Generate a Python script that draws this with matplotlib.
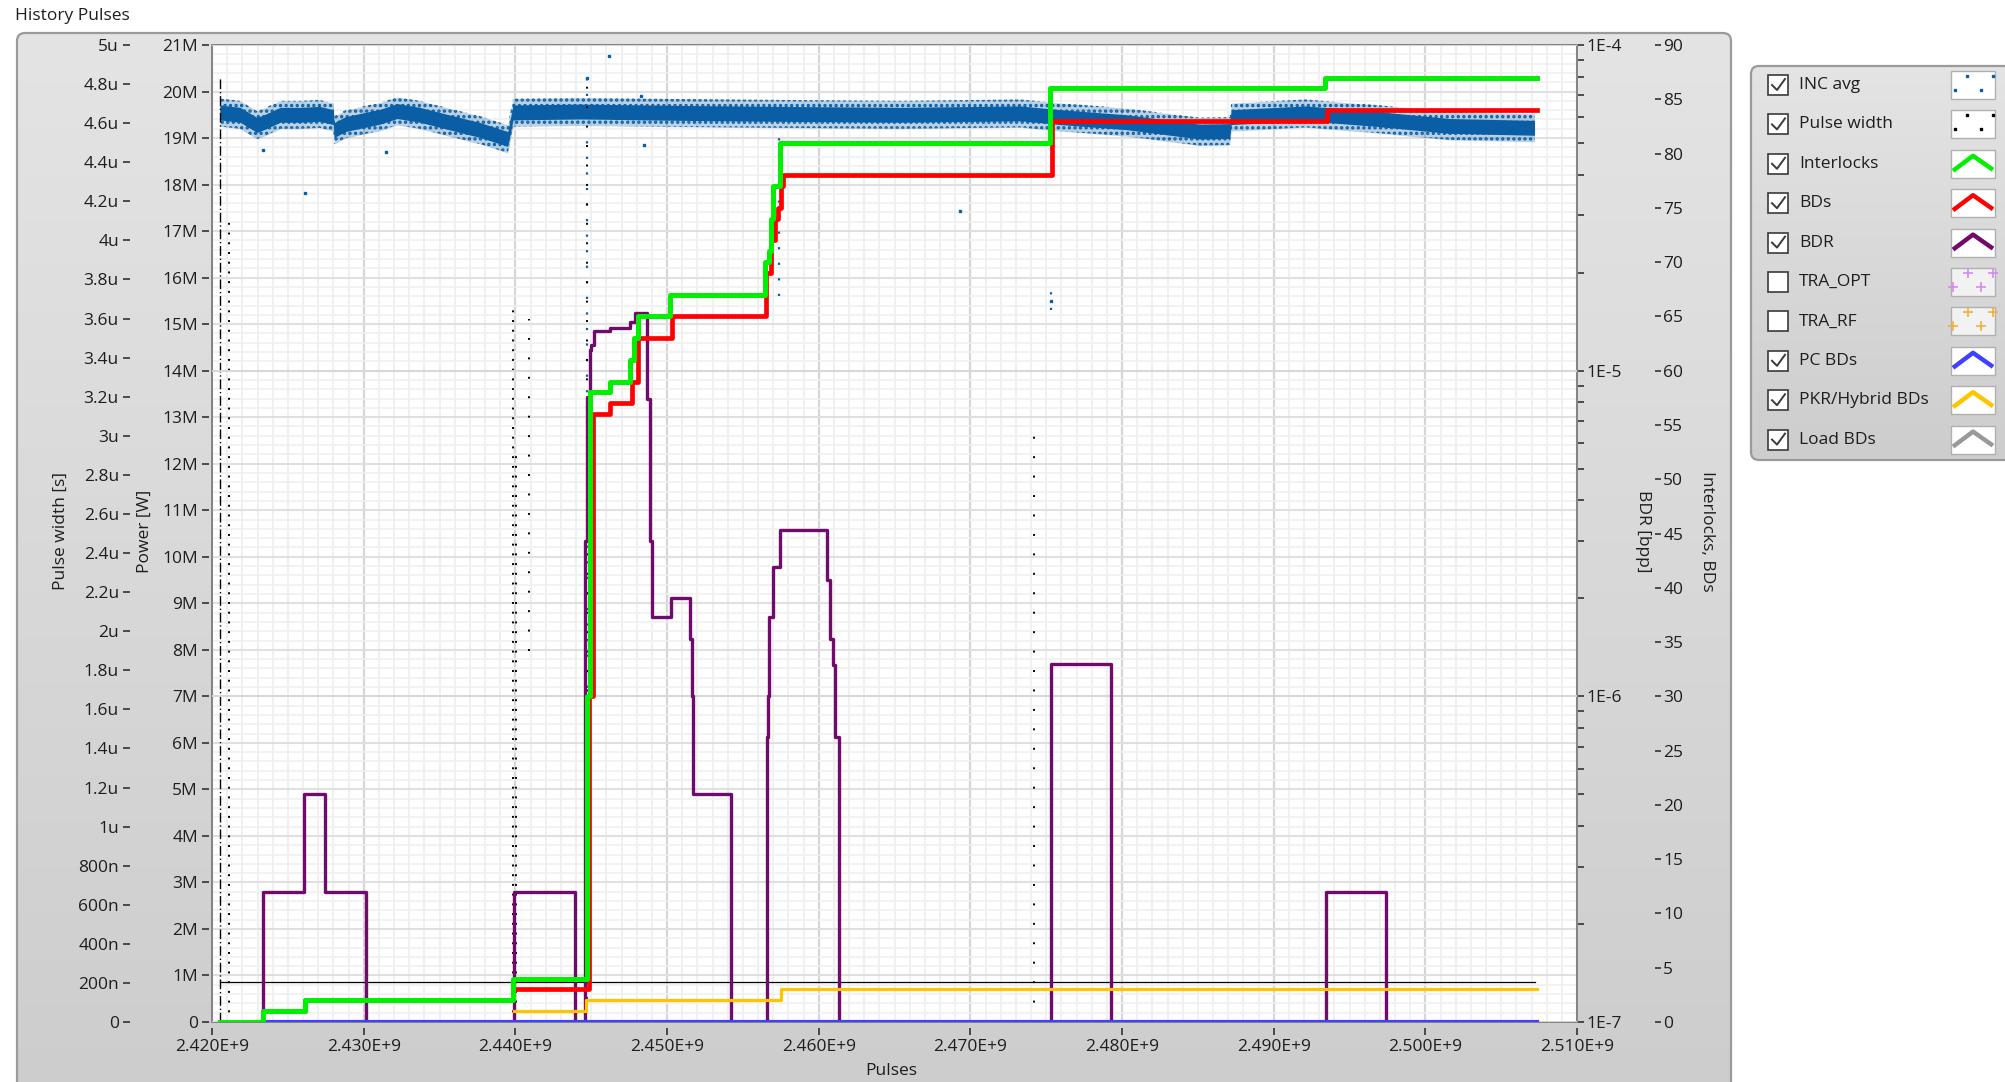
import numpy as np
import matplotlib
matplotlib.use('Agg')
import matplotlib.pyplot as plt
from matplotlib.ticker import FuncFormatter, MultipleLocator, LogLocator, NullFormatter
from matplotlib.patches import FancyBboxPatch, Rectangle
from matplotlib.colors import LinearSegmentedColormap

plt.rcParams['font.family'] = ['Open Sans', 'DejaVu Sans']
plt.rcParams['hatch.linewidth'] = 1.6
FS = 12.5
TXT = '#1e1e1e'

# ---- data (pulses in units of 1E+9) ----
# Interlocks (green step)
interlock_x = [2.42053, 2.42336, 2.42613, 2.43985, 2.44475, 2.44495, 2.44624, 2.44756, 2.44780,
               2.44810, 2.45020, 2.45646, 2.45670, 2.45685, 2.45700, 2.45745, 2.47525, 2.49340, 2.50736]
interlock_y = [0, 1, 2, 4, 30, 58, 59, 61, 63, 65, 67, 70, 71, 74, 77, 81, 86, 87, 87]

# BDs (red step)
bds_x = [2.42053, 2.42336, 2.42613, 2.43985, 2.44485, 2.44510, 2.44624, 2.44770, 2.44810, 2.45033,
         2.45650, 2.45685, 2.45710, 2.45730, 2.45750, 2.45765, 2.47540, 2.49350, 2.50736]
bds_y = [0, 1, 2, 3, 30, 56, 57, 59, 63, 65, 69, 72, 74, 75, 77, 78, 83, 84, 84]

# BDR (purple step, 0 = below scale)
bdr_x = [2.42053, 2.42336, 2.42605, 2.42745, 2.43015, 2.43990, 2.44396, 2.44460, 2.44475, 2.44490,
         2.44500, 2.44520, 2.44624, 2.44756, 2.44790, 2.44868, 2.44888, 2.44901, 2.45026, 2.45152,
         2.45165, 2.45171, 2.45422, 2.45659, 2.45665, 2.45672, 2.45698, 2.45745, 2.46053, 2.46075,
         2.46092, 2.46108, 2.46136, 2.47532, 2.47927, 2.49345, 2.49741, 2.50736]
bdr_y = [0, 2.5e-7, 5.0e-7, 2.5e-7, 0, 2.5e-7, 0, 3.0e-6, 8.3e-6, 1.16e-5,
         1.2e-5, 1.32e-5, 1.35e-5, 1.41e-5, 1.5e-5, 8.2e-6, 3.0e-6, 1.75e-6, 2.0e-6, 1.5e-6,
         1.0e-6, 5.0e-7, 0, 7.5e-7, 1.0e-6, 1.75e-6, 2.5e-6, 3.24e-6, 2.28e-6, 1.5e-6,
         1.25e-6, 7.5e-7, 0, 1.26e-6, 0, 2.5e-7, 0, 0]

# PKR/Hybrid BDs (orange step)
pkr_x = [2.43990, 2.44466, 2.45750, 2.50736]
pkr_y = [1, 2, 3, 3]

# PC BDs (blue)
pc_x = [2.42336, 2.50736]
pc_y = [0, 0]

# Pulse width (black)
pw_x = [2.42053, 2.50720]
pw_y = [2.03e-7, 2.03e-7]
# pulse width outlier columns: pulses, top, bottom [s]
pw_col_x = [2.42053, 2.42112, 2.43985, 2.44005, 2.44090, 2.44475, 2.47420]
pw_col_top = [4.83e-6, 4.12e-6, 3.66e-6, 2.9e-6, 3.6e-6, 4.84e-6, 3.07e-6]
pw_col_bot = [0, 0, 0, 0, 1.9e-6, 0, 0]

# INC avg power band [MW]
inc_x = [2.42053, 2.42185, 2.42297, 2.42350, 2.42450, 2.42580, 2.42710, 2.42800, 2.42805, 2.42880,
         2.43110, 2.43220, 2.43370, 2.43550, 2.43770, 2.43950, 2.43985, 2.44430, 2.45090, 2.45750,
         2.46540, 2.47330, 2.47590, 2.48030, 2.48510, 2.48710, 2.48720, 2.49210, 2.49680, 2.50160,
         2.50720]
inc_mid = [19.55, 19.50, 19.28, 19.35, 19.50, 19.50, 19.52, 19.45, 19.17, 19.30,
           19.46, 19.58, 19.50, 19.35, 19.17, 18.98, 19.55, 19.57, 19.54, 19.52,
           19.50, 19.53, 19.45, 19.34, 19.14, 19.15, 19.45, 19.53, 19.41, 19.26,
           19.22]
inc_core = 0.16
inc_spread = 0.30
# INC outliers
inc_out_x = [2.42613, 2.42336, 2.43150, 2.44620, 2.44830, 2.44850, 2.45690, 2.46930, 2.47530, 2.44475]
inc_out_y = [17.82, 18.74, 18.70, 20.76, 19.90, 18.85, 17.20, 17.43, 15.50, 20.30]
# INC outlier columns: pulses, top, bottom [MW]
inc_col_x = [2.44475, 2.44475, 2.45740, 2.47530]
inc_col_top = [20.40, 19.00, 19.10, 15.80]
inc_col_bot = [19.90, 0.50, 15.60, 15.30]

# legend
legend_names = ['INC avg', 'Pulse width', 'Interlocks', 'BDs', 'BDR', 'TRA_OPT', 'TRA_RF',
                'PC BDs', 'PKR/Hybrid BDs', 'Load BDs']
legend_checked = [True, True, True, True, True, False, False, True, True, True]
legend_kind = ['dots', 'dots', 'line', 'line', 'line', 'plus', 'plus', 'line', 'line', 'line']
legend_colors = ['#0a5ea6', '#000000', '#00f000', '#ff0000', '#700a6c', '#d68af0', '#f0b040',
                 '#4040ff', '#ffc400', '#999999']

C_GREEN = '#00f000'
C_RED = '#ff0000'
C_PURPLE = '#700a6c'
C_ORANGE = '#ffc400'
C_BLUE = '#4040ff'
C_INC = '#0a5ea6'

W, H = 2005, 1082
fig = plt.figure(figsize=(W / 100, H / 100), dpi=100)
fig.patch.set_facecolor('white')

# ---- background panels ----
bg = fig.add_axes([0, 0, 1, 1], zorder=0)
panel_cmap = LinearSegmentedColormap.from_list('panel', ['#e4e4e4', '#cdcdcd'])
grad = np.linspace(0, 1, 256).reshape(-1, 1)


def panel(x0, y0, x1, y1):
    box = FancyBboxPatch((x0, y0), x1 - x0, y1 - y0, boxstyle='round,pad=0,rounding_size=8',
                         fc='none', ec='#9a9a9a', lw=1.6, zorder=3)
    bg.add_patch(box)
    im = bg.imshow(grad, extent=(x0, x1, y1, y0), cmap=panel_cmap, aspect='auto', zorder=1)
    im.set_clip_path(box)


panel(17, 33, 1731, 1100)
panel(1751, 66, 2030, 460)
bg.set_xlim(0, W)
bg.set_ylim(H, 0)
bg.axis('off')

fig.text(15 / W, 1 - 16 / H, 'History Pulses', fontsize=FS, color=TXT, ha='left', va='center')

# legend entries
for i, name in enumerate(legend_names):
    yc = 85 + i * 39.4
    bg.add_patch(Rectangle((1768, yc - 10), 20, 20, fc='white', ec='#3a3a3a', lw=1.2, zorder=4))
    if legend_checked[i]:
        bg.plot([1772, 1777, 1785], [yc, yc + 5, yc - 6], color='#3a3a3a', lw=1.4, zorder=5)
    bg.text(1799, yc, name, fontsize=FS, color=TXT, va='center', ha='left', zorder=5)
    kind = legend_kind[i]
    bg.add_patch(Rectangle((1951, yc - 14), 44, 28, fc='#f2f2f2' if kind == 'plus' else 'white',
                           ec='#b0b0b0', lw=1, zorder=4))
    c = legend_colors[i]
    if kind == 'line':
        bg.plot([1953, 1973, 1993], [yc + 7, yc - 8, yc + 6], color=c, lw=3.2,
                solid_capstyle='butt', zorder=5)
    elif kind == 'dots':
        bg.plot([1967, 1993, 1955, 1981], [yc - 9, yc - 9, yc + 5, yc + 5], ls='none',
                marker='s', ms=1.6, color=c, zorder=5)
    else:
        bg.plot([1968, 1981, 1953, 1993], [yc - 9, yc + 5, yc + 5, yc - 9], ls='none',
                marker='+', ms=7, mew=1.2, color=c, zorder=5)

# ---- plot axes ----
L, R, T, B = 212, 1577, 45, 1022
ax = fig.add_axes([L / W, 1 - B / H, (R - L) / W, (B - T) / H], zorder=1)
ax.set_facecolor('white')
ax_pw = ax.twinx()
ax_bdr = ax.twinx()
ax_int = ax.twinx()
ax_pw.set_zorder(2)
ax_bdr.set_zorder(3)
ax_int.set_zorder(4)

for a in (ax, ax_pw, ax_bdr, ax_int):
    for s in a.spines.values():
        s.set_visible(False)

ax.set_xlim(2.42e9, 2.51e9)
ax.set_ylim(0, 21e6)
ax_pw.set_ylim(0, 5e-6)
ax_bdr.set_yscale('log')
ax_bdr.set_ylim(1e-7, 1e-4)
ax_int.set_ylim(0, 90)

# grid
ax.set_axisbelow(True)
ax.xaxis.set_major_locator(MultipleLocator(1e7))
ax.xaxis.set_minor_locator(MultipleLocator(1e6))
ax.yaxis.set_major_locator(MultipleLocator(1e6))
ax.yaxis.set_minor_locator(MultipleLocator(0.2e6))
ax.grid(True, which='major', axis='x', color='#d6d6d6', lw=1.6)
ax.grid(True, which='minor', axis='x', color='#ededed', lw=1.2)
ax.grid(True, which='major', axis='y', color='#e0e0e0', lw=1.5)
ax.grid(True, which='minor', axis='y', color='#f0f0f0', lw=1.2)
ax_bdr.grid(True, which='major', axis='y', color='#d8d8d8', lw=1.4)

# tick formats
ax.xaxis.set_major_formatter(FuncFormatter(lambda v, p: f'{v / 1e9:.3f}E+9'))
ax.yaxis.set_major_formatter(FuncFormatter(lambda v, p: '0' if abs(v) < 1 else f'{v / 1e6:.0f}M'))


def fmt_pw(v, p):
    if abs(v) < 1e-12:
        return '0'
    if v < 1e-6 - 1e-12:
        return f'{v * 1e9:.0f}n'
    return f'{round(v * 1e6, 1):g}u'


ax_pw.yaxis.set_major_locator(MultipleLocator(0.2e-6))
ax_pw.yaxis.set_major_formatter(FuncFormatter(fmt_pw))
ax_pw.yaxis.tick_left()
ax_pw.spines['left'].set_position(('axes', (130 - L) / (R - L)))

ax_bdr.yaxis.set_major_locator(LogLocator(base=10, numticks=10))
ax_bdr.yaxis.set_minor_locator(LogLocator(base=10, subs=np.arange(2, 10), numticks=10))
ax_bdr.yaxis.set_minor_formatter(NullFormatter())
ax_bdr.yaxis.set_major_formatter(FuncFormatter(lambda v, p: f'1E{int(round(np.log10(v)))}'))
ax_bdr.spines['right'].set_position(('outward', 1))

ax_int.yaxis.set_major_locator(MultipleLocator(5))
ax_int.yaxis.set_major_formatter(FuncFormatter(lambda v, p: f'{v:.0f}'))
ax_int.spines['right'].set_position(('axes', (1655 - L) / (R - L)))

ax.spines['left'].set_position(('outward', 2))
ax.spines['bottom'].set_position(('outward', 4))
ax.tick_params(axis='x', which='major', direction='out', length=5, width=1.2, pad=3,
               labelsize=FS, labelcolor=TXT, color='#333333')
ax.tick_params(axis='y', which='major', direction='out', length=5, width=1.2, pad=3,
               labelsize=FS, labelcolor=TXT, color='#333333')
ax.tick_params(which='minor', length=0)
ax_pw.tick_params(axis='y', direction='out', length=5, width=1.2, pad=3,
                  labelsize=FS, labelcolor=TXT, color='#333333')
ax_bdr.tick_params(axis='y', which='major', direction='out', length=4, width=1.2, pad=2,
                   labelsize=FS, labelcolor=TXT, color='#333333')
ax_bdr.tick_params(axis='y', which='minor', direction='out', length=4, width=1.2, color='#333333')
ax_int.tick_params(axis='y', direction='out', length=4, width=1.2, pad=2,
                   labelsize=FS, labelcolor=TXT, color='#333333')

ax.add_patch(Rectangle((0, 0), 1, 1, transform=ax.transAxes, fill=False, ec='#7c7c7c',
                       lw=1.3, zorder=10, clip_on=False))

# ---- series ----
px = lambda v: np.asarray(v) * 1e9

# INC avg band: speckled fringe, dense core
mid = np.asarray(inc_mid) * 1e6
ax.fill_between(px(inc_x), mid - inc_spread * 1e6, mid + inc_spread * 1e6, color=C_INC,
                alpha=0.28, lw=0, zorder=2)
ax.fill_between(px(inc_x), mid - inc_spread * 1e6, mid + inc_spread * 1e6, facecolor='none',
                edgecolor=C_INC, hatch='...', lw=0, zorder=2)
ax.fill_between(px(inc_x), mid - inc_core * 1e6, mid + inc_core * 1e6, color=C_INC,
                lw=0, zorder=3)
ax.plot(px(inc_out_x), np.asarray(inc_out_y) * 1e6, ls='none', marker='s', ms=1.8,
        color=C_INC, zorder=3)
ax.vlines(px(inc_col_x), np.asarray(inc_col_bot) * 1e6, np.asarray(inc_col_top) * 1e6,
          colors=C_INC, linestyles=(0, (1, 6)), lw=1.6, zorder=3)

# Pulse width
ax_pw.plot(px(pw_x), pw_y, color='black', lw=0.9, zorder=3)
ax_pw.vlines(px(pw_col_x[:1]), pw_col_bot[:1], pw_col_top[:1], colors='black',
             linestyles=(0, (7, 2, 1, 2)), lw=1.0)
ax_pw.vlines(px(pw_col_x[1:4]), pw_col_bot[1:4], pw_col_top[1:4], colors='black',
             linestyles=(0, (1, 4)), lw=1.4)
ax_pw.vlines(px(pw_col_x[4:]), pw_col_bot[4:], pw_col_top[4:], colors='black',
             linestyles=(0, (1, 9)), lw=1.4)

# BDR
bdr = np.asarray(bdr_y, dtype=float)
bdr[bdr <= 0] = 1e-9
ax_bdr.step(px(bdr_x), bdr, where='post', color=C_PURPLE, lw=2.4)

# Interlocks, BDs etc.
ax_int.step(px(pc_x), pc_y, where='post', color=C_BLUE, lw=3.0)
ax_int.step(px(pkr_x), pkr_y, where='post', color=C_ORANGE, lw=2.3)
ax_int.step(px(bds_x), bds_y, where='post', color=C_RED, lw=3.4)
ax_int.step(px(interlock_x), interlock_y, where='post', color=C_GREEN, lw=3.6)

# axis titles
fig.text(61 / W, 1 - 531 / H, 'Pulse width [s]', rotation=90, fontsize=FS, color=TXT,
         ha='center', va='center')
fig.text(145 / W, 1 - 531 / H, 'Power [W]', rotation=90, fontsize=FS, color=TXT,
         ha='center', va='center')
fig.text(1643 / W, 1 - 531 / H, 'BDR [bpp]', rotation=270, fontsize=FS, color=TXT,
         ha='center', va='center')
fig.text(1707 / W, 1 - 531 / H, 'Interlocks, BDs', rotation=270, fontsize=FS, color=TXT,
         ha='center', va='center')
fig.text(891 / W, 1 - 1071 / H, 'Pulses', fontsize=FS, color=TXT, ha='center', va='center')

fig.savefig('out.png', dpi=100)
